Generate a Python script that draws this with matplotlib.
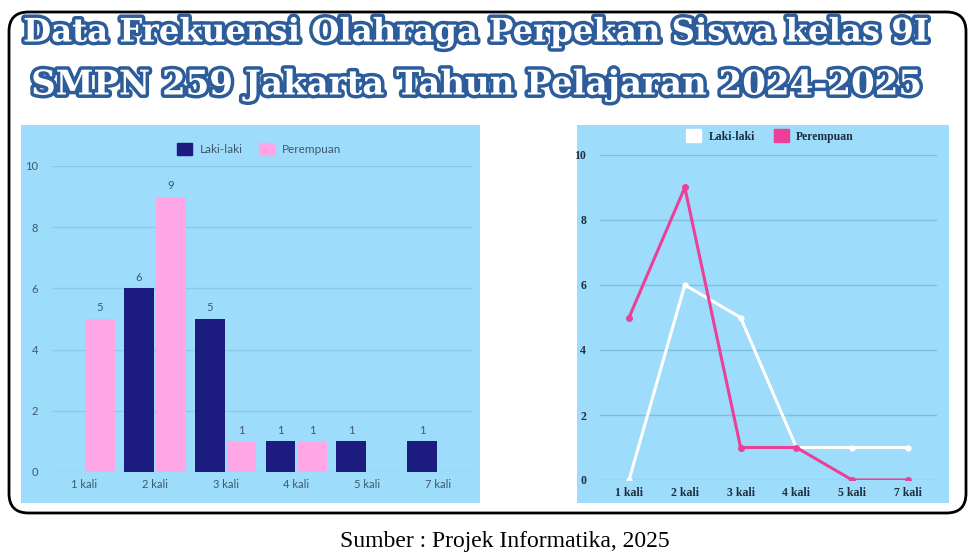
import matplotlib
matplotlib.use("Agg")
import matplotlib.pyplot as plt
import matplotlib.patheffects as pe
from matplotlib.patches import FancyBboxPatch, Rectangle
import numpy as np

# ---- data ----
categories = ["1 kali", "2 kali", "3 kali", "4 kali", "5 kali", "7 kali"]
laki = [0, 6, 5, 1, 1, 1]
perempuan = [5, 9, 1, 1, 0, 0]
yticks = [0, 2, 4, 6, 8, 10]
title1 = "Data Frekuensi Olahraga Perpekan Siswa kelas 9I"
title2 = "SMPN 259 Jakarta Tahun Pelajaran 2024-2025"
caption = "Sumber : Projek Informatika, 2025"

W, H = 974, 559
fig = plt.figure(figsize=(W / 100, H / 100), dpi=100)
fig.patch.set_facecolor("white")


def fx(x):
    return x / W


def fy(y):
    return 1 - y / H


def rect(x0, y0, x1, y1):
    return [fx(x0), fy(y1), fx(x1) - fx(x0), fy(y0) - fy(y1)]


# outer rounded frame
frame = FancyBboxPatch((fx(9), fy(513)), fx(966) - fx(9), fy(12) - fy(513),
                       boxstyle="round,pad=0,rounding_size=0.02",
                       transform=fig.transFigure, fill=False,
                       edgecolor="black", linewidth=2, mutation_aspect=W / H,
                       zorder=-2)
fig.patches.append(frame)

BG = "#9ddcfa"
GRID = "#8acbe8"
NAVY = "#1c1c80"
LPINK = "#ffa6e6"
PINK = "#ec3f98"
TXT = "#3d5a6e"

# panel backgrounds
for (x0, y0, x1, y1) in [(21, 125, 480, 503), (577, 125, 949, 503)]:
    fig.patches.append(Rectangle((fx(x0), fy(y1)), fx(x1) - fx(x0), fy(y0) - fy(y1),
                                 transform=fig.transFigure, facecolor=BG,
                                 edgecolor="none", zorder=-1))

# ---- left: bar chart ----
ax1 = fig.add_axes(rect(52, 166, 472, 472))
ax1.set_zorder(2)
ax1.set_facecolor("none")
x = np.arange(len(categories))
w = 0.42
b1 = ax1.bar(x - 0.225, laki, w, color=NAVY, zorder=3)
b2 = ax1.bar(x + 0.225, perempuan, w, color=LPINK, zorder=3)
for bars, vals in [(b1, laki), (b2, perempuan)]:
    for r, v in zip(bars, vals):
        if v > 0:
            ax1.annotate(str(v), (r.get_x() + r.get_width() / 2, v),
                         xytext=(0, 4), textcoords="offset points",
                         ha="center", va="bottom", fontsize=8,
                         color=TXT, family="Lato")
ax1.set_xlim(-0.452, 5.48)
ax1.set_ylim(0, 10)
ax1.set_yticks(yticks)
ax1.set_xticks(x)
ax1.set_xticklabels(categories)
ax1.grid(axis="y", color=GRID, linewidth=1, zorder=0)
for s in ax1.spines.values():
    s.set_visible(False)
ax1.tick_params(length=0, labelsize=8, labelcolor=TXT)
for t in ax1.get_xticklabels() + ax1.get_yticklabels():
    t.set_family("Lato")
ax1.tick_params(axis="y", pad=10)
ax1.tick_params(axis="x", pad=5)

h1 = Rectangle((0, 0), 1, 1, color=NAVY)
h2 = Rectangle((0, 0), 1, 1, color=LPINK)
fig.legend([h1, h2], ["Laki-laki", "Perempuan"], loc="center",
           bbox_to_anchor=(fx(259), fy(149)), ncol=2, frameon=False,
           handlelength=1.3, handleheight=1.3, columnspacing=1.4,
           handletextpad=0.6, prop={"family": "Lato", "size": 8.5},
           labelcolor=TXT)

# ---- right: line chart ----
ax2 = fig.add_axes(rect(600, 155, 937, 480))
ax2.set_zorder(2)
ax2.set_facecolor("none")
ax2.plot(x, laki, color="white", linewidth=2.2, marker="o", markersize=3.5, zorder=3)
ax2.plot(x, perempuan, color=PINK, linewidth=2.2, marker="o", markersize=4, zorder=4)
ax2.set_xlim(-0.52, 5.52)
ax2.set_ylim(0, 10)
ax2.set_yticks(yticks)
ax2.set_xticks(x)
ax2.set_xticklabels(categories)
ax2.grid(axis="y", color="#7dbfdc", linewidth=1, zorder=0)
for s in ax2.spines.values():
    s.set_visible(False)
ax2.tick_params(length=0, labelsize=8.5, labelcolor="#1f2f3f")
ax2.tick_params(axis="y", pad=10)
ax2.tick_params(axis="x", pad=5)
for t in ax2.get_xticklabels() + ax2.get_yticklabels():
    t.set_family("Liberation Serif")
    t.set_fontweight("bold")

h3 = Rectangle((0, 0), 1, 1, color="white")
h4 = Rectangle((0, 0), 1, 1, color=PINK)
fig.legend([h3, h4], ["Laki-laki", "Perempuan"], loc="center",
           bbox_to_anchor=(fx(770), fy(136)), ncol=2, frameon=False,
           handlelength=1.3, handleheight=1.3, columnspacing=1.6,
           handletextpad=0.6,
           prop={"family": "Liberation Serif", "size": 8.5, "weight": "bold"},
           labelcolor="#1f2f3f")

# ---- titles ----
stroke = [pe.withStroke(linewidth=5, foreground="#2d5c9a")]
fig.text(fx(476), fy(33), title1, ha="center", va="center",
         fontsize=23.3, fontweight="bold", family="DejaVu Serif",
         color="white", path_effects=stroke)
fig.text(fx(476), fy(85), title2, ha="center", va="center",
         fontsize=24.5, fontweight="bold", family="DejaVu Serif",
         color="white", path_effects=stroke)

fig.text(fx(505), fy(541), caption, ha="center", va="center",
         fontsize=17, family="Liberation Serif", color="black")

fig.savefig("out.png", dpi=100)
